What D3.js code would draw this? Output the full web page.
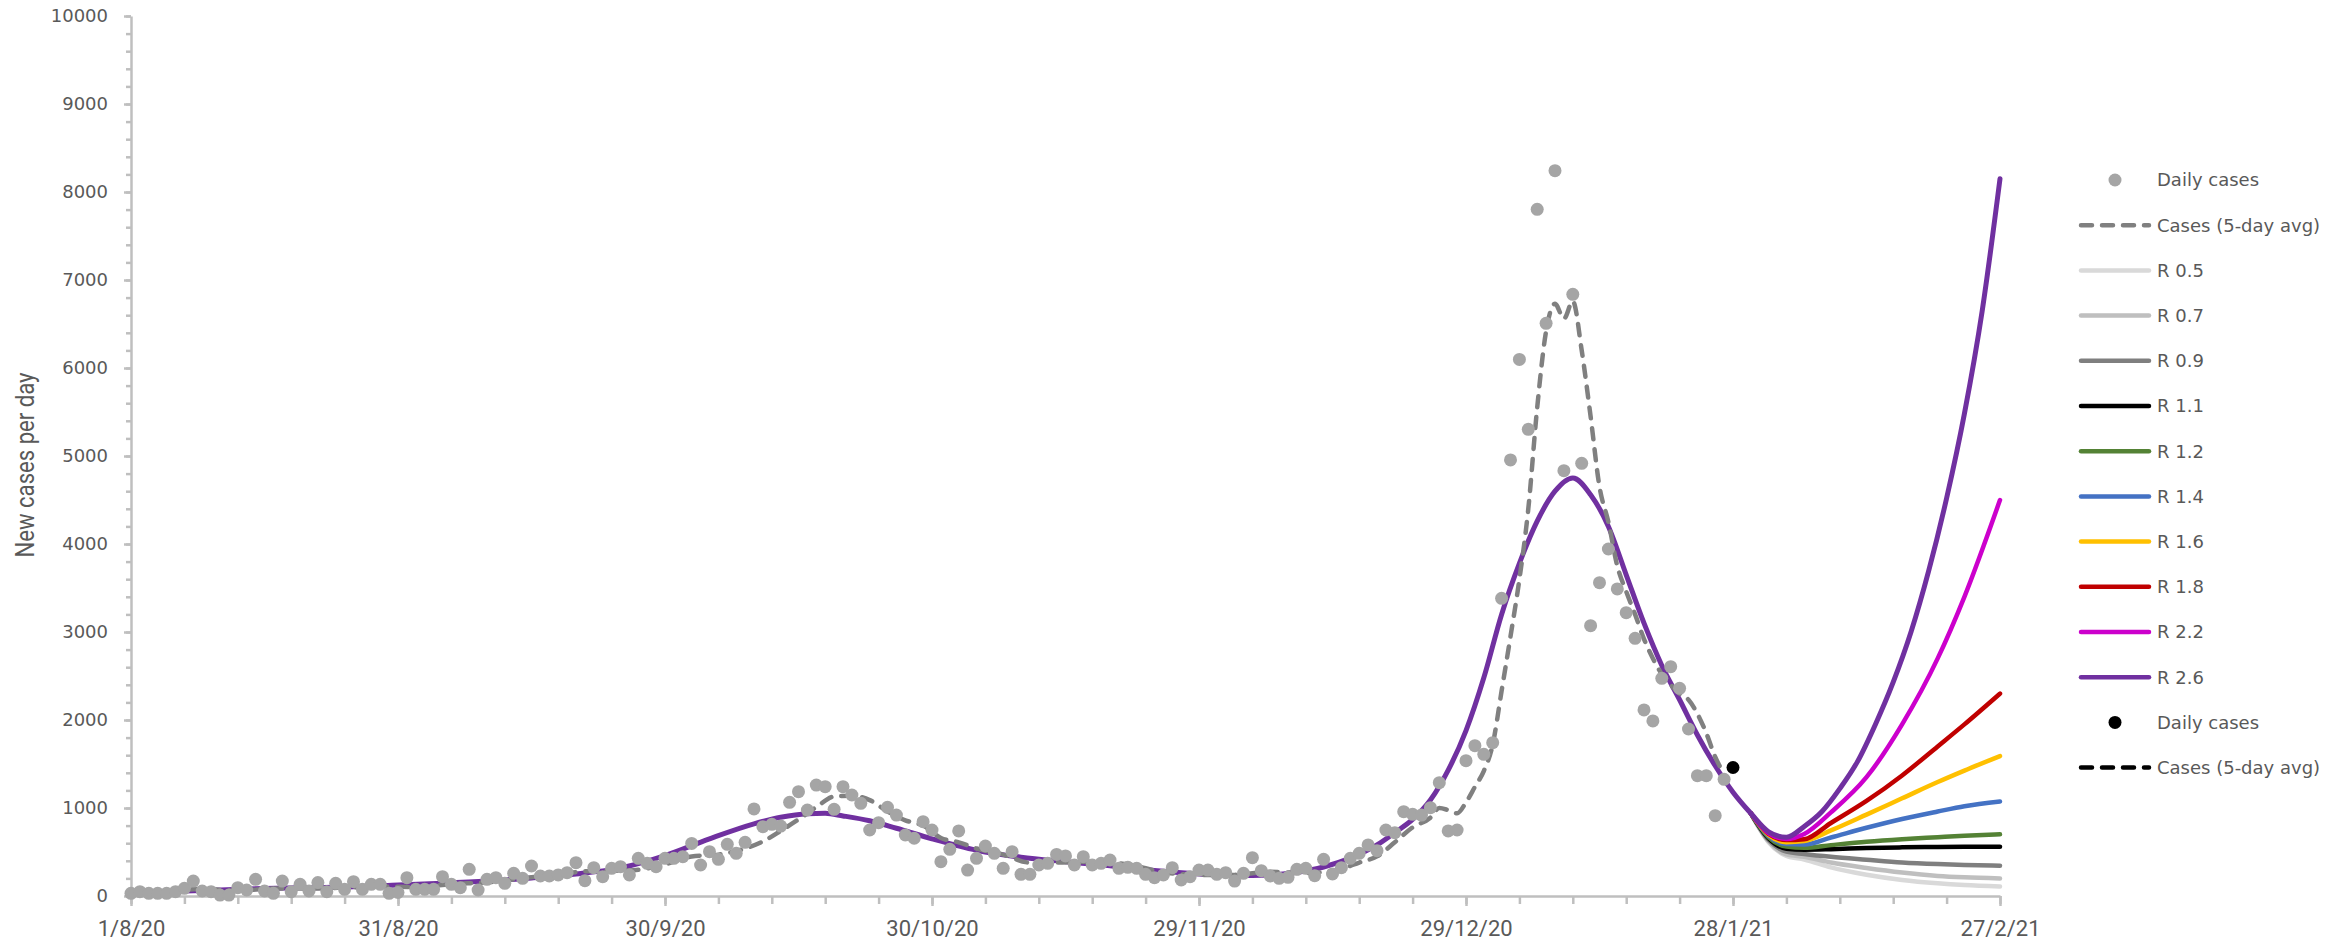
<!DOCTYPE html>
<html>
<head>
<meta charset="utf-8">
<script src="https://cdn.jsdelivr.net/npm/d3@7"></script>
<style>
  body { margin: 0; background: #fff; }
  .axis path, .axis line { stroke: #bfbfbf; stroke-width: 2.5; }
  .axis text { fill: #595959; }
</style>
</head>
<body>
<div id="chart"></div>
<script>
// x positions are days counted from 1/8/20
var tickDays = [0, 30, 60, 90, 120, 150, 180, 210];
var tickLabels = ["1/8/20", "31/8/20", "30/9/20", "30/10/20", "29/11/20", "29/12/20", "28/1/21", "27/2/21"];
var yTicks = [0, 1000, 2000, 3000, 4000, 5000, 6000, 7000, 8000, 9000, 10000];

// daily cases, one value per day from day 0 to day 179
var dailyCases = [
  30, 49, 30, 30, 30, 49, 87, 170, 57, 49,
  11, 11, 95, 68, 189, 57, 30, 170, 49, 133,
  57, 152, 49, 144, 76, 163, 76, 133, 133, 30,
  40, 208, 76, 76, 76, 220, 133, 95, 303, 68,
  189, 208, 144, 258, 201, 341, 227, 227, 239, 265,
  379, 174, 322, 220, 314, 333, 239, 428, 371, 333,
  428, 428, 447, 598, 352, 504, 417, 587, 485, 610,
  989, 788, 814, 795, 1064, 1186, 977, 1261, 1242, 985,
  1242, 1148, 1053, 750, 833, 1008, 920, 693, 656, 845,
  750, 390, 530, 739, 295, 428, 568, 485, 314, 504,
  246, 246, 352, 371, 473, 455, 352, 447, 352, 371,
  409, 314, 326, 314, 246, 208, 239, 322, 182, 220,
  295, 295, 246, 265, 170, 258, 436, 288, 227, 201,
  212, 303, 314, 231, 417, 250, 322, 428, 485, 580,
  515, 750, 720, 958, 928, 920, 1004, 1288, 739, 750,
  1538, 1708, 1610, 1742, 3383, 4955, 6098, 5303, 7803, 6508,
  8242, 4833, 6837, 4917, 3072, 3561, 3943, 3489, 3220, 2928,
  2114, 1989, 2474, 2606, 2360, 1898, 1367, 1367, 913, 1326
];

// latest day (black point)
var latestDay = [180];
var latestCases = [1460];

// 5-day average
var avgDays = [4, 8, 12, 16, 20, 24, 28, 32, 36, 40,
  44, 48, 52, 56, 60, 63, 66, 69, 71, 73,
  75, 77, 79, 81, 83, 85, 87, 89, 91, 93,
  95, 98, 101, 104, 108, 112, 116, 120, 124, 128,
  132, 136, 138, 140, 142, 144, 146, 147, 148, 149,
  150, 151, 152, 153, 154, 155, 156, 157, 158, 159,
  160, 161, 162, 163, 164, 165, 166, 167, 168, 169,
  170, 171, 172, 173, 174, 175, 176, 177, 178, 179];
var avgCases = [34, 80, 60, 85, 85, 95, 110, 100, 135, 155,
  200, 250, 285, 290, 360, 450, 470, 540, 620, 740,
  870, 1010, 1130, 1140, 1090, 960, 860, 800, 660, 610,
  540, 470, 380, 380, 390, 360, 270, 240, 240, 275,
  260, 310, 380, 450, 610, 780, 890, 1000, 976, 940,
  1064, 1240, 1420, 1720, 2330, 2950, 3600, 4400, 5550, 6420,
  6730, 6560, 6760, 6200, 5450, 4650, 4250, 3750, 3460, 3200,
  2920, 2700, 2520, 2400, 2300, 2230, 2070, 1850, 1580, 1390];

// model fit, R 2.6 runs over the whole period
var fitDays = [0, 5, 10, 15, 20, 25, 30, 35, 40, 45,
  50, 55, 60, 65, 70, 73, 76, 78, 80, 83,
  86, 90, 95, 100, 105, 110, 115, 120, 124, 128,
  131, 134, 137, 140, 142, 144, 146, 148, 150, 152,
  154, 156, 158, 160, 162, 164, 166, 168, 170, 172,
  174, 176, 178, 180, 182, 184, 186, 188, 190, 192,
  194, 196, 198, 200, 202, 204, 206, 208, 210];
var r26 = [45, 55, 68, 85, 95, 105, 125, 145, 170, 205,
  250, 320, 460, 650, 820, 895, 935, 940, 910, 855,
  770, 650, 520, 440, 390, 345, 290, 250, 232, 240,
  270, 330, 430, 580, 720, 870, 1090, 1430, 1880, 2480,
  3200, 3780, 4260, 4600, 4750, 4560, 4200, 3650, 3100, 2620,
  2230, 1830, 1480, 1180, 940, 730, 667, 790, 960, 1220,
  1530, 1950, 2430, 3000, 3700, 4520, 5480, 6650, 8150];

// projections for other R values
var rDays = [182, 184, 186, 188, 191, 195, 199, 203, 206, 210];
var r05 = [940, 610, 455, 415, 325, 242, 183, 145, 125, 108];
var r07 = [940, 621, 473, 445, 380, 318, 266, 228, 212, 200];
var r09 = [940, 636, 504, 478, 446, 413, 382, 363, 353, 345];
var r11 = [940, 655, 538, 526, 532, 545, 553, 557, 559, 561];
var r12 = [940, 667, 561, 547, 578, 617, 646, 668, 684, 701];
var r14 = [940, 682, 590, 585, 665, 775, 875, 960, 1020, 1075];
var r16 = [940, 693, 612, 625, 745, 925, 1110, 1295, 1425, 1590];
var r18 = [940, 705, 635, 645, 830, 1080, 1370, 1700, 1950, 2300];
var r22 = [940, 712, 648, 705, 950, 1350, 1950, 2700, 3400, 4500];

var projections = [
  {name: "R 0.5", values: r05, color: "#d9d9d9"},
  {name: "R 0.7", values: r07, color: "#bfbfbf"},
  {name: "R 0.9", values: r09, color: "#7f7f7f"},
  {name: "R 1.1", values: r11, color: "#000000"},
  {name: "R 1.2", values: r12, color: "#548235"},
  {name: "R 1.4", values: r14, color: "#4472c4"},
  {name: "R 1.6", values: r16, color: "#ffc000"},
  {name: "R 1.8", values: r18, color: "#c00000"},
  {name: "R 2.2", values: r22, color: "#cc00cc"}
];

var margin = {top: 16, right: 351, bottom: 45, left: 131},
    width = 2351 - margin.left - margin.right,
    height = 941 - margin.top - margin.bottom;

var svg = d3.select("#chart")
  .append("svg")
    .attr("width", 2351)
    .attr("height", 941)
    .style("background", "#fff")
  .append("g")
    .attr("transform", "translate(" + margin.left + "," + margin.top + ")");

var x = d3.scaleLinear().domain([0, 210]).range([0, width]);
var y = d3.scaleLinear().domain([0, 10000]).range([height, 0]);

// minor ticks
svg.append("g")
  .attr("class", "axis")
  .call(d3.axisLeft(y).tickValues(d3.range(0, 10001, 200)).tickSize(5).tickFormat(""))
  .select(".domain").remove();
svg.append("g")
  .attr("class", "axis")
  .attr("transform", "translate(0," + height + ")")
  .call(d3.axisBottom(x).tickValues(d3.range(0, 211, 6)).tickSize(8).tickFormat(""))
  .select(".domain").remove();

// main axes
svg.append("g")
  .attr("class", "axis")
  .call(d3.axisLeft(y).tickValues(yTicks).tickSize(7).tickSizeOuter(0).tickPadding(16)
    .tickFormat(d3.format("d")))
  .selectAll("text")
    .style("font-family", "'DejaVu Sans', sans-serif")
    .style("font-size", "18px");

svg.append("g")
  .attr("class", "axis")
  .attr("transform", "translate(0," + height + ")")
  .call(d3.axisBottom(x).tickValues(tickDays).tickSize(10).tickSizeOuter(0).tickPadding(14)
    .tickFormat(function(d, i) { return tickLabels[i]; }))
  .selectAll("text")
    .style("font-family", "Roboto, sans-serif")
    .style("font-size", "22px");

svg.append("text")
  .attr("transform", "rotate(-90)")
  .attr("x", -(465 - margin.top))
  .attr("y", 25 - margin.left)
  .attr("dy", "0.35em")
  .attr("textLength", 185)
  .attr("lengthAdjust", "spacingAndGlyphs")
  .style("text-anchor", "middle")
  .style("font-family", "Roboto, sans-serif")
  .style("font-size", "25px")
  .style("fill", "#595959")
  .text("New cases per day");

// projection lines
var projLine = d3.line()
  .x(function(d, i) { return x(rDays[i]); })
  .y(function(d) { return y(d); })
  .curve(d3.curveMonotoneX);

svg.selectAll("myproj")
  .data(projections)
  .enter()
  .append("path")
    .attr("d", function(s) { return projLine(s.values); })
    .attr("fill", "none")
    .attr("stroke", function(s) { return s.color; })
    .attr("stroke-width", 4.5)
    .attr("stroke-linecap", "round");

// R 2.6 fit
var fitLine = d3.line()
  .x(function(d, i) { return x(fitDays[i]); })
  .y(function(d) { return y(d); })
  .curve(d3.curveMonotoneX);

svg.append("path")
  .attr("d", fitLine(r26))
  .attr("fill", "none")
  .attr("stroke", "#7030a0")
  .attr("stroke-width", 5)
  .attr("stroke-linecap", "round");

// 5-day average
var avgLine = d3.line()
  .x(function(d, i) { return x(avgDays[i]); })
  .y(function(d) { return y(d); })
  .curve(d3.curveMonotoneX);

svg.append("path")
  .attr("d", avgLine(avgCases))
  .attr("fill", "none")
  .attr("stroke", "#808080")
  .attr("stroke-width", 4.5)
  .attr("stroke-linecap", "round")
  .attr("stroke-dasharray", "11,10");

// daily cases
svg.selectAll("mycircle")
  .data(dailyCases)
  .enter()
  .append("circle")
    .attr("cx", function(d, i) { return x(i); })
    .attr("cy", function(d) { return y(d); })
    .attr("r", 6.5)
    .style("fill", "#a5a5a5");

svg.selectAll("mylatest")
  .data(latestCases)
  .enter()
  .append("circle")
    .attr("cx", function(d, i) { return x(latestDay[i]); })
    .attr("cy", function(d) { return y(d); })
    .attr("r", 6.5)
    .style("fill", "#000");

// legend
var legendItems = [
  {name: "Daily cases", type: "dot", color: "#a5a5a5"},
  {name: "Cases (5-day avg)", type: "dash", color: "#808080"}
].concat(projections.map(function(p) { return {name: p.name, type: "line", color: p.color}; }))
 .concat([
  {name: "R 2.6", type: "line", color: "#7030a0"},
  {name: "Daily cases", type: "dot", color: "#000"},
  {name: "Cases (5-day avg)", type: "dash", color: "#000"}
]);

var legend = d3.select("svg").append("g")
  .attr("transform", "translate(2079,180)");

var rows = legend.selectAll("g")
  .data(legendItems)
  .enter()
  .append("g")
    .attr("transform", function(d, i) { return "translate(0," + (i * 45.2) + ")"; });

rows.filter(function(d) { return d.type != "dot"; })
  .append("line")
    .attr("x1", 2).attr("x2", 70)
    .attr("stroke", function(d) { return d.color; })
    .attr("stroke-width", 4.5)
    .attr("stroke-linecap", "round")
    .attr("stroke-dasharray", function(d) { return d.type == "dash" ? "11,10" : null; });

rows.filter(function(d) { return d.type == "dot"; })
  .append("circle")
    .attr("cx", 36)
    .attr("r", 6.5)
    .style("fill", function(d) { return d.color; });

rows.append("text")
  .attr("x", 78)
  .attr("dy", "0.36em")
  .style("font-family", "'DejaVu Sans', sans-serif")
  .style("font-size", "18px")
  .style("fill", "#595959")
  .text(function(d) { return d.name; });
</script>
</body>
</html>
